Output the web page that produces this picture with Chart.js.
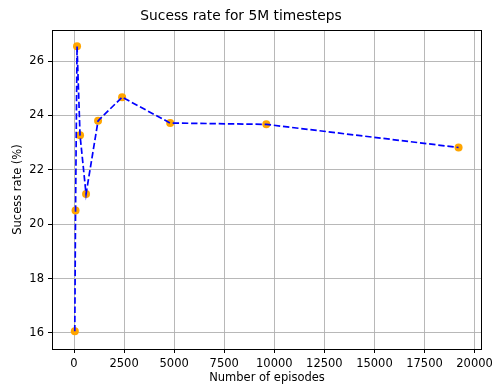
<!DOCTYPE html>
<html>
<head>
<meta charset="utf-8">
<script src="https://cdn.jsdelivr.net/npm/chart.js@4.4.1/dist/chart.umd.min.js"></script>
<style>
  html, body { margin: 0; padding: 0; background: #fff; }
  #wrap { width: 492px; height: 385px; }
</style>
</head>
<body>
<div id="wrap"><canvas id="c" width="492" height="385"></canvas></div>
<script>
// Data
const episodes = [37.5, 75, 150, 300, 600, 1200, 2400, 4800, 9600, 19200];
const successRate = [16.06, 20.5, 26.54, 23.27, 21.11, 23.8, 24.67, 23.72, 23.67, 22.82];
const xTicks = [0, 2500, 5000, 7500, 10000, 12500, 15000, 17500, 20000];
const yTicks = [16, 18, 20, 22, 24, 26];
const titleText = 'Sucess rate for 5M timesteps';
const xLabel = 'Number of episodes';
const yLabel = 'Sucess rate (%)';

const points = episodes.map((x, i) => ({ x: x, y: successRate[i] }));
const FONT = 'DejaVu Sans';

const spinePlugin = {
  id: 'spines',
  afterDatasetsDraw(chart) {
    const a = chart.chartArea;
    const ctx = chart.ctx;
    ctx.save();
    ctx.strokeStyle = '#000';
    ctx.lineWidth = 1;
    ctx.strokeRect(a.left + 0.5, a.top + 0.5, a.right - a.left - 1, a.bottom - a.top);
    ctx.restore();
  }
};

new Chart(document.getElementById('c'), {
  type: 'line',
  data: {
    datasets: [
      {
        data: points,
        borderColor: '#0000ff',
        borderWidth: 1.7,
        borderDash: [6.4, 2.8],
        pointRadius: 0,
        fill: false,
        tension: 0
      },
      {
        type: 'scatter',
        data: points,
        showLine: false,
        pointRadius: 4,
        pointBackgroundColor: '#ffa500',
        pointBorderColor: '#ffa500',
        pointBorderWidth: 0
      }
    ]
  },
  options: {
    responsive: false,
    animation: false,
    events: [],
    layout: { padding: { left: 0, right: 10, top: 0, bottom: 0 } },
    plugins: {
      legend: { display: false },
      tooltip: { enabled: false },
      title: {
        display: true,
        text: titleText,
        color: '#000',
        font: { family: FONT, size: 13.8, weight: 'normal', lineHeight: 1.2 },
        padding: { top: 8.4, bottom: 5.04 }
      }
    },
    scales: {
      x: {
        type: 'linear',
        min: -1100,
        max: 20370,
        afterBuildTicks(scale) { scale.ticks = xTicks.map(v => ({ value: v })); },
        afterFit(scale) { scale.height = 36; scale.paddingLeft = 0; scale.paddingRight = 0; },
        ticks: {
          maxRotation: 0,
          autoSkip: false,
          color: '#000',
          padding: 4.5,
          font: { family: FONT, size: 11.5 },
          callback: (v) => String(v)
        },
        grid: {
          color: '#b0b0b0',
          lineWidth: 0.9,
          tickColor: '#000',
          tickLength: 4,
          tickWidth: 1
        },
        border: { display: false },
        title: {
          display: true,
          text: xLabel,
          color: '#000',
          font: { family: FONT, size: 11.5, lineHeight: 1.2 },
          padding: { top: 0, bottom: 0.2 }
        }
      },
      y: {
        type: 'linear',
        min: 15.41,
        max: 27.14,
        afterBuildTicks(scale) { scale.ticks = yTicks.map(v => ({ value: v })); },
        afterFit(scale) { scale.width = 52; scale.paddingTop = 0; scale.paddingBottom = 0; },
        ticks: {
          color: '#000',
          padding: 4,
          font: { family: FONT, size: 11.5 },
          callback: (v) => String(v)
        },
        grid: {
          color: '#b0b0b0',
          lineWidth: 0.9,
          tickColor: '#000',
          tickLength: 4,
          tickWidth: 1
        },
        border: { display: false },
        title: {
          display: true,
          text: yLabel,
          color: '#000',
          font: { family: FONT, size: 11.5, lineHeight: 1.2 },
          padding: { top: 11, bottom: 0 }
        }
      }
    }
  },
  plugins: [spinePlugin]
});
</script>
</body>
</html>
